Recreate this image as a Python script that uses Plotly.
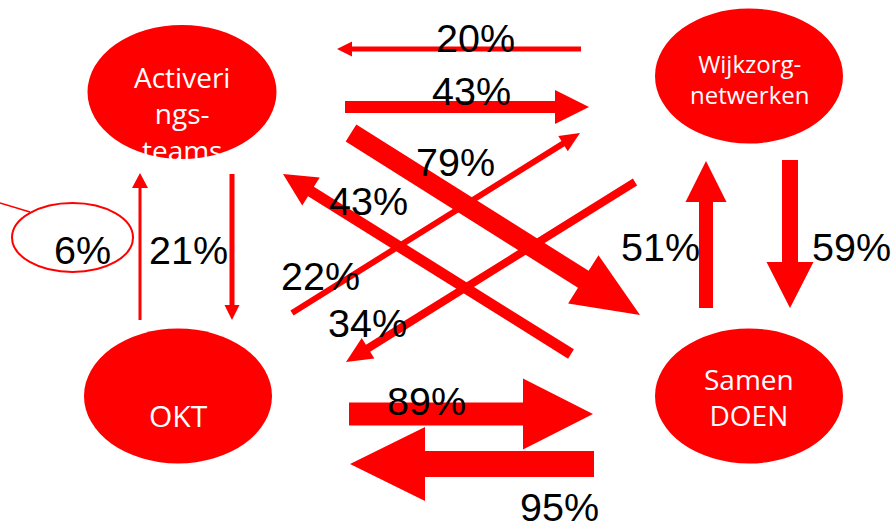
import math
import plotly.graph_objects as go

# ---- data ----
node_names = ["Activeringsteams", "Wijkzorgnetwerken", "OKT", "Samen DOEN"]
node_labels = ["Activeri<br>ngs-<br>teams", "Wijkzorg-<br>netwerken", "OKT", "Samen<br>DOEN"]

flow_from = ["Wijkzorgnetwerken", "Activeringsteams", "Activeringsteams", "Samen DOEN",
             "OKT", "Wijkzorgnetwerken", "Activeringsteams", "OKT",
             "Samen DOEN", "Wijkzorgnetwerken", "OKT", "Samen DOEN"]
flow_to = ["Activeringsteams", "Wijkzorgnetwerken", "Samen DOEN", "Activeringsteams",
           "Wijkzorgnetwerken", "OKT", "OKT", "Activeringsteams",
           "Wijkzorgnetwerken", "Samen DOEN", "Samen DOEN", "OKT"]
flow_pct = [20, 43, 79, 43, 22, 34, 21, 6, 51, 59, 89, 95]
flow_text = [f"{v}%" for v in flow_pct]

# ---- layout geometry (pixel space) ----
node_cx = [182, 749, 178, 749]
node_cy = [92, 76, 396, 396]
node_rx = [94.5, 94, 94, 94]
node_ry = [67, 67.5, 67.5, 67.5]
node_text_y = [113, 79, 415, 397]
node_font = [28, 24, 30, 28]

# arrow: start x,y ; tip x,y ; body width ; head length ; head width
arr_x0 = [581, 345, 351, 571, 292, 635, 232, 140, 706, 790, 349, 594]
arr_y0 = [49, 107, 133, 354, 313, 182, 174, 320, 308, 160, 414, 464]
arr_x1 = [337, 589, 640, 283, 580, 346, 232, 140, 706, 790, 593, 350]
arr_y1 = [49, 107, 315, 174, 133, 362, 320, 173, 161, 308, 414, 464]
arr_w = [5, 12, 20, 11, 6, 8, 5, 3, 14, 16, 23, 26]
arr_hl = [15, 34, 67, 33, 20, 26, 15, 15, 41, 46, 70, 75]
arr_hw = [15, 34, 57, 33, 18, 24, 15, 16, 41, 47, 71, 74]

lab_x = [475, 471, 455, 368, 320, 367, 188, 82, 660, 851, 426, 559]
lab_y = [37.5, 90.5, 162, 201, 276, 323, 250, 250, 247, 247, 400.5, 507]

RED = "#FF0000"

fig = go.Figure()


def arrow_poly(x0, y0, x1, y1, w, hl, hw):
    dx, dy = x1 - x0, y1 - y0
    L = math.hypot(dx, dy)
    ux, uy = dx / L, dy / L
    nx, ny = -uy, ux
    bx, by = x1 - ux * hl, y1 - uy * hl
    pts = [
        (x0 + nx * w / 2, y0 + ny * w / 2),
        (bx + nx * w / 2, by + ny * w / 2),
        (bx + nx * hw / 2, by + ny * hw / 2),
        (x1, y1),
        (bx - nx * hw / 2, by - ny * hw / 2),
        (bx - nx * w / 2, by - ny * w / 2),
        (x0 - nx * w / 2, y0 - ny * w / 2),
        (x0 + nx * w / 2, y0 + ny * w / 2),
    ]
    return [p[0] for p in pts], [p[1] for p in pts]


shapes = []
# nodes (ellipses)
for i in range(len(node_names)):
    shapes.append(dict(type="circle", xref="x", yref="y",
                       x0=node_cx[i] - node_rx[i], x1=node_cx[i] + node_rx[i],
                       y0=node_cy[i] - node_ry[i], y1=node_cy[i] + node_ry[i],
                       fillcolor=RED, line=dict(width=0), layer="below"))

# highlight circle around 6% and its pointer line
shapes.append(dict(type="circle", xref="x", yref="y", x0=12, x1=133, y0=203, y1=272,
                   line=dict(color=RED, width=2), fillcolor="rgba(0,0,0,0)"))
shapes.append(dict(type="line", xref="x", yref="y", x0=0, y0=203, x1=30, y1=212,
                   line=dict(color=RED, width=1.5)))

for i in range(len(flow_pct)):
    xs, ys = arrow_poly(arr_x0[i], arr_y0[i], arr_x1[i], arr_y1[i], arr_w[i], arr_hl[i], arr_hw[i])
    fig.add_trace(go.Scatter(x=xs, y=ys, mode="lines", fill="toself", fillcolor=RED,
                             line=dict(width=0, color=RED), hoverinfo="skip",
                             name=f"{flow_from[i]} → {flow_to[i]}", showlegend=False))

annotations = []
for i in range(len(node_names)):
    annotations.append(dict(x=node_cx[i], y=node_text_y[i], xref="x", yref="y",
                            text=node_labels[i], showarrow=False,
                            font=dict(family="Open Sans", size=node_font[i], color="white"),
                            xanchor="center", yanchor="middle", align="center"))
for i in range(len(flow_pct)):
    annotations.append(dict(x=lab_x[i], y=lab_y[i], xref="x", yref="y",
                            text=flow_text[i], showarrow=False,
                            font=dict(family="Liberation Sans, Arial", size=39.5, color="black"),
                            xanchor="center", yanchor="middle"))

fig.update_layout(
    width=896, height=523,
    margin=dict(l=0, r=0, t=0, b=0),
    paper_bgcolor="white", plot_bgcolor="white",
    xaxis=dict(range=[0, 896], visible=False, fixedrange=True),
    yaxis=dict(range=[523, 0], visible=False, fixedrange=True),
    shapes=shapes, annotations=annotations, showlegend=False,
)

fig.write_html("out.html", config={"displayModeBar": False},
               post_script="document.body.style.margin='0';document.body.style.overflow='hidden';")
